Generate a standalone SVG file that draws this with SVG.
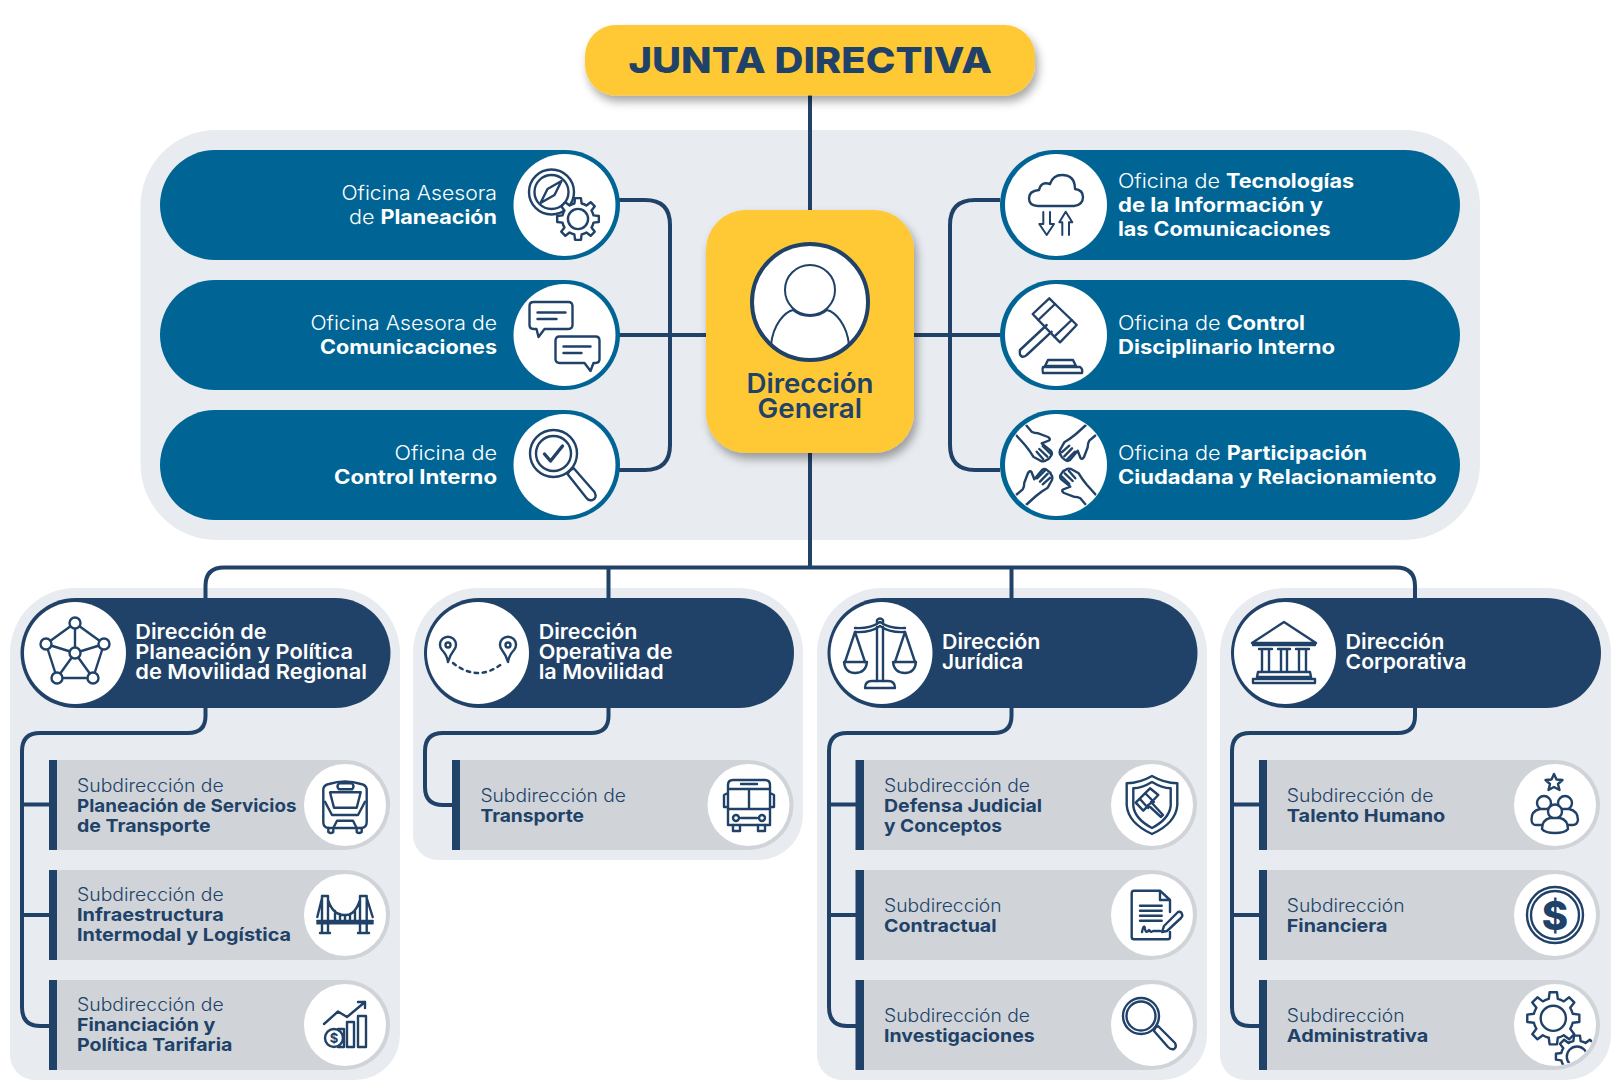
<svg xmlns="http://www.w3.org/2000/svg" width="1620" height="1090" viewBox="0 0 1620 1090">
<style>
text{font-family:"Inter","Liberation Sans",sans-serif}
.panel{fill:#e8ebef}
.yel{fill:#ffc836}
.teal{fill:#006595}
.navy{fill:#214268}
.sub{fill:#d0d4d8}
.wh{fill:#fff}
.con{fill:none;stroke:#214268;stroke-width:4}
.i{fill:none;stroke:#214268;stroke-width:2.4;stroke-linecap:round;stroke-linejoin:round}
.iw{fill:#fff;stroke:#214268;stroke-width:2.4;stroke-linejoin:round;stroke-linecap:round}
.g{fill:#fff;stroke:#214268;stroke-width:2.4;stroke-linejoin:round;vector-effect:non-scaling-stroke}
.l{fill:#fff;font-size:19.500px;font-weight:300}
.l tspan{font-weight:700}
.d{fill:#fff;font-size:20.500px;font-weight:600}
.s{fill:#214268;font-size:18px;font-weight:300}
.sb{fill:#214268;font-size:18px;font-weight:700}
</style>
<defs>
<filter id="shadow" x="-20%" y="-20%" width="140%" height="150%"><feDropShadow dx="3" dy="6" stdDeviation="5" flood-color="#000" flood-opacity=".35"/></filter>
<g id="gear">
<path class="g" d="M18.500 -4.300L24.800 -3.500V3.500L18.500 4.300A19 19 0 0 1 16.100 10L20 15.100L15.100 20L10 16.100A19 19 0 0 1 4.300 18.500L3.500 24.800H-3.500L-4.300 18.500A19 19 0 0 1 -10 16.100L-15.100 20L-20 15.100L-16.100 10A19 19 0 0 1 -18.500 4.300L-24.800 3.500V-3.500L-18.500 -4.300A19 19 0 0 1 -16.100 -10L-20 -15.100L-15.100 -20L-10 -16.100A19 19 0 0 1 -4.300 -18.500L-3.500 -24.800H3.500L4.300 -18.500A19 19 0 0 1 10 -16.100L15.100 -20L20 -15.100L16.100 -10A19 19 0 0 1 18.500 -4.300Z"/>
<circle class="g" r="12"/>
</g>
<g id="hand">
<path class="i" stroke-width="1.900" d="M-30 -40L-24.300 -33.300Q-22 -31.700 -17.700 -31.700L-8 -28Q-5 -26 -7 -24.500L-14.300 -21.700L-5 -14Q-3 -11 -5.500 -8.500Q-7 -5.500 -9.500 -5Q-11 -3 -15 -4L-22.700 -8.300Q-26 -14 -31 -20L-40 -30"/>
<path class="i" stroke-width="1.900" d="M-19.300 -13.300L-12.700 -5.700M-16.700 -16L-8.700 -8.300M-13.300 -19L-5.300 -11"/>
</g>
<clipPath id="c51"><circle r="50"/></clipPath>
<clipPath id="c41"><circle r="40.500"/></clipPath>
<clipPath id="c60"><circle r="57"/></clipPath>
</defs>

<rect class="panel" x="140.500" y="130" width="1339.500" height="410" rx="76"/>
<path class="panel" d="M75 588H335A65 65 0 0 1 400 653V1035A45 45 0 0 1 355 1080H35A25 25 0 0 1 10 1055V653A65 65 0 0 1 75 588Z"/>
<path class="panel" d="M478 588H738A65 65 0 0 1 803 653V815A45 45 0 0 1 758 860H438A25 25 0 0 1 413 835V653A65 65 0 0 1 478 588Z"/>
<path class="panel" d="M882 588H1142A65 65 0 0 1 1207 653V1035A45 45 0 0 1 1162 1080H842A25 25 0 0 1 817 1055V653A65 65 0 0 1 882 588Z"/>
<path class="panel" d="M1285 588H1546A65 65 0 0 1 1611 653V1035A45 45 0 0 1 1566 1080H1245A25 25 0 0 1 1220 1055V653A65 65 0 0 1 1285 588Z"/>

<g id="connectors">
<path class="con" d="M810 95V567"/>
<path class="con" d="M619 200H645Q670 200 670 225V445Q670 470 645 470H619M619 335H706"/>
<path class="con" d="M1000 200H975Q950 200 950 225V445Q950 470 975 470H1000M914 335H1000"/>
<path class="con" d="M205.500 598V586Q205.500 567.500 224 567.500H1396Q1415 567.500 1415 586V598M608.500 567.500V598M1011.500 567.500V598"/>
<path class="con" d="M205.500 708V716Q205.500 733 188 733H40Q22 733 22 751V1007Q22 1026 40 1026H50M22 804.500H50M22 915H50"/>
<path class="con" d="M608.500 708V716Q608.500 733 591 733H443Q425 733 425 751V787Q425 805 443 805H453"/>
<path class="con" d="M1011.500 708V716Q1011.500 733 994 733H847Q829 733 829 751V1007Q829 1026 847 1026H857M829 804.500H857M829 915H857"/>
<path class="con" d="M1415 708V716Q1415 733 1398 733H1250Q1232 733 1232 751V1007Q1232 1026 1250 1026H1260M1232 804.500H1260M1232 915H1260"/>
</g>

<g id="junta">
<rect class="yel" x="585" y="25" width="450" height="70.500" rx="31" filter="url(#shadow)"/>
<text x="628.500" y="73" textLength="363.500" lengthAdjust="spacingAndGlyphs" style="fill:#214268;font-size:36px;font-weight:800">JUNTA DIRECTIVA</text>
</g>

<g id="direccion-general">
<rect class="yel" x="706" y="210" width="208" height="243" rx="40" filter="url(#shadow)"/>
<circle cx="810" cy="302" r="58" fill="#fff" stroke="#214268" stroke-width="4"/>
<g transform="translate(810 302)"><g clip-path="url(#c60)">
<circle cy="-12" r="25" class="i" style="stroke-width:2"/>
<path class="i" style="stroke-width:2" d="M-39 43C-37 22 -25 10 -17 8C-8 16 8 16 17 8C25 10 37 22 39 43"/>
</g></g>
<text x="746.500" y="392.800" textLength="127" lengthAdjust="spacingAndGlyphs" style="fill:#214268;font-size:27px;font-weight:600">Dirección</text>
<text x="757.500" y="418" textLength="104.500" lengthAdjust="spacingAndGlyphs" style="fill:#214268;font-size:27px;font-weight:600">General</text>
</g>

<g id="of-planeacion">
<rect class="teal" x="160" y="150" width="460" height="110" rx="55"/>
<circle class="wh" cx="564.500" cy="205" r="51"/>
<text class="l" x="341.500" y="200" textLength="155.500" lengthAdjust="spacingAndGlyphs">Oficina Asesora</text>
<text class="l" x="349" y="223.500" textLength="148" lengthAdjust="spacingAndGlyphs">de <tspan>Planeación</tspan></text>
<g transform="translate(564.500 205)">
<circle cx="-13" cy="-13" r="22.500" class="i"/>
<circle cx="-13" cy="-13" r="17" class="i"/>
<path class="i" d="M-3 -24L-10 -10L-24 -2L-17 -16Z"/>
<use href="#gear" transform="translate(13.500 14) scale(.84)"/>
</g>
</g>

<g id="of-comunicaciones">
<rect class="teal" x="160" y="280" width="460" height="110" rx="55"/>
<circle class="wh" cx="564.500" cy="335" r="51"/>
<text class="l" x="310.500" y="330" textLength="186.500" lengthAdjust="spacingAndGlyphs">Oficina Asesora de</text>
<text class="l" x="320" y="353.500" textLength="177" lengthAdjust="spacingAndGlyphs"><tspan>Comunicaciones</tspan></text>
<g transform="translate(564.500 335)">
<path class="i" d="M-31 -33H4Q8 -33 8 -29V-10Q8 -6 4 -6H-20L-26 2L-28 -6H-31Q-35 -6 -35 -10V-29Q-35 -33 -31 -33Z"/>
<path class="i" d="M-27 -22.500H1M-27 -16H-8"/>
<path class="i" d="M-5 1.500H31Q35 1.500 35 5.500V24Q35 28 31 28H29L26 36L20 28H-5Q-9 28 -9 24V5.500Q-9 1.500 -5 1.500Z"/>
<path class="i" d="M-1 11.500H26M-1 18H17"/>
</g>
</g>

<g id="of-control">
<rect class="teal" x="160" y="410" width="460" height="110" rx="55"/>
<circle class="wh" cx="564.500" cy="465" r="51"/>
<text class="l" x="394.500" y="460" textLength="102.500" lengthAdjust="spacingAndGlyphs">Oficina de</text>
<text class="l" x="334" y="484" textLength="163" lengthAdjust="spacingAndGlyphs"><tspan>Control Interno</tspan></text>
<g transform="translate(564.500 465)">
<circle cx="-11" cy="-11.500" r="23.500" class="i"/>
<circle cx="-11" cy="-11.500" r="17.500" class="i"/>
<path class="i" style="stroke-width:3.400" d="M-20 -11L-14 -4L-2 -19"/>
<path class="i" d="M5 6L9 3L30 27Q33 33 28 35Q24 36 22 33L3 9Z"/>
</g>
</g>

<g id="of-tecnologias">
<rect class="teal" x="1000" y="150" width="460" height="110" rx="55"/>
<circle class="wh" cx="1056" cy="205" r="51"/>
<text class="l" x="1118" y="188.400" textLength="236" lengthAdjust="spacingAndGlyphs">Oficina de <tspan>Tecnologías</tspan></text>
<text class="l" x="1118" y="212" textLength="205" lengthAdjust="spacingAndGlyphs"><tspan>de la Información y</tspan></text>
<text class="l" x="1118" y="236.400" textLength="212.500" lengthAdjust="spacingAndGlyphs"><tspan>las Comunicaciones</tspan></text>
<g transform="translate(1056 205)">
<path class="i" d="M-18 1H18Q27 0 27 -8Q27 -15 19 -16Q19 -30 6 -30Q-3 -30 -6 -21Q-15 -24 -17 -15Q-27 -14 -27 -7Q-27 1 -18 1Z"/>
<path class="i" style="stroke-width:2" d="M-12.700 7V19M-6 7V19M-12.700 19H-16.700L-9.300 30L-2 19H-6"/>
<path class="i" style="stroke-width:2" d="M6.300 30V17.300M13 30V17.300M6.300 17.300H3.300L9.700 6.700L16.300 17.300H13"/>
</g>
</g>

<g id="of-disciplinario">
<rect class="teal" x="1000" y="280" width="460" height="110" rx="55"/>
<circle class="wh" cx="1056" cy="335" r="51"/>
<text class="l" x="1118" y="330" textLength="187" lengthAdjust="spacingAndGlyphs">Oficina de <tspan>Control</tspan></text>
<text class="l" x="1118" y="353.500" textLength="217" lengthAdjust="spacingAndGlyphs"><tspan>Disciplinario Interno</tspan></text>
<g transform="translate(1056 335)">
<path class="i" d="M-23.300 -21L-6.700 -36.700L-1 -31L-17.700 -15Z"/>
<path class="i" d="M20.700 -10L4 7.300L-1.700 1.700L15.700 -15Z"/>
<path class="i" d="M-17.700 -15L-1.700 1.700M-1 -31L15.700 -15"/>
<path class="i" d="M-9.300 -10L-36 15Q-37 20 -34 21.700Q-31 22 -29.300 20L-4.300 -3.300"/>
<path class="i" d="M-8 25H17L20 31H-11ZM-13 32H24Q27 34 26 38H-13Q-14 34 -13 32Z"/>
</g>
</g>

<g id="of-participacion">
<rect class="teal" x="1000" y="410" width="460" height="110" rx="55"/>
<circle class="wh" cx="1056" cy="465" r="51"/>
<text class="l" x="1118" y="460" textLength="249" lengthAdjust="spacingAndGlyphs">Oficina de <tspan>Participación</tspan></text>
<text class="l" x="1118" y="484" textLength="318.500" lengthAdjust="spacingAndGlyphs"><tspan>Ciudadana y Relacionamiento</tspan></text>
<g transform="translate(1056 465)"><g clip-path="url(#c51)">
<use href="#hand"/>
<use href="#hand" transform="rotate(90)"/>
<use href="#hand" transform="rotate(180)"/>
<use href="#hand" transform="rotate(270)"/>
</g></g>
</g>

<g id="dir-planeacion">
<rect class="navy" x="20.500" y="598" width="370" height="110" rx="55"/>
<circle class="wh" cx="75" cy="653" r="51"/>
<text class="d" x="135.300" y="639" textLength="131.200" lengthAdjust="spacingAndGlyphs">Dirección de</text>
<text class="d" x="135.300" y="659" textLength="217.700" lengthAdjust="spacingAndGlyphs">Planeación y Política</text>
<text class="d" x="135.300" y="679" textLength="231.700" lengthAdjust="spacingAndGlyphs">de Movilidad Regional</text>
<g transform="translate(75 653)">
<path class="i" d="M0 -30L-29 -9L-18 25H18L29 -9ZM0 -30V0M-29 -9L0 0L29 -9M-18 25L0 0L18 25"/>
<circle class="iw" cy="-30" r="5.500"/><circle class="iw" cx="-29" cy="-9" r="5.500"/><circle class="iw" cx="29" cy="-9" r="5.500"/><circle class="iw" r="5.500"/><circle class="iw" cx="-18" cy="25" r="5.500"/><circle class="iw" cx="18" cy="25" r="5.500"/>
</g>
</g>

<g id="dir-operativa">
<rect class="navy" x="424" y="598" width="370" height="110" rx="55"/>
<circle class="wh" cx="478" cy="653" r="51"/>
<text class="d" x="538.700" y="639" textLength="98.700" lengthAdjust="spacingAndGlyphs">Dirección</text>
<text class="d" x="538.700" y="659" textLength="133.800" lengthAdjust="spacingAndGlyphs">Operativa de</text>
<text class="d" x="538.700" y="679" textLength="125" lengthAdjust="spacingAndGlyphs">la Movilidad</text>
<g transform="translate(478 653)">
<path class="i" d="M-30 9Q-31 2 -36 -3A8 8 0 1 1 -24 -3Q-28 2 -30 9ZM30 9Q28 2 24 -3A8 8 0 1 1 36 -3Q31 2 30 9Z"/>
<circle class="i" cx="-30" cy="-8" r="2.500"/><circle class="i" cx="30" cy="-8" r="2.500"/>
<path class="i" stroke-dasharray="3.500 4.500" d="M-25 10Q0 30 25 10"/>
</g>
</g>

<g id="dir-juridica">
<rect class="navy" x="827.500" y="598" width="370" height="110" rx="55"/>
<circle class="wh" cx="881.500" cy="653" r="51"/>
<text class="d" x="942" y="649" textLength="98.400" lengthAdjust="spacingAndGlyphs">Dirección</text>
<text class="d" x="942" y="669" textLength="81.300" lengthAdjust="spacingAndGlyphs">Jurídica</text>
<g transform="translate(880 653)">
<path class="i" d="M-3 -29V-33Q0 -36 3 -33V-29M-3 -26V28M3 -26V28M-25 -21Q-10 -20 0 -27Q10 -20 25 -21M-25 -25Q-10 -24 0 -31Q10 -24 25 -25"/>
<path class="i" d="M-25 -21L-35 9M-25 -21L-15 9M25 -21L35 9M25 -21L15 9"/>
<path class="i" d="M-36 9H-13Q-14 20 -25 20Q-35 20 -36 9ZM13 9H36Q35 20 25 20Q14 20 13 9Z"/>
<path class="i" d="M-15 35Q-15 28 -8 28H8Q15 28 15 35Z"/>
</g>
</g>

<g id="dir-corporativa">
<rect class="navy" x="1231" y="598" width="370" height="110" rx="55"/>
<circle class="wh" cx="1285" cy="653" r="51"/>
<text class="d" x="1345.600" y="649" textLength="98.700" lengthAdjust="spacingAndGlyphs">Dirección</text>
<text class="d" x="1345.600" y="669" textLength="120.900" lengthAdjust="spacingAndGlyphs">Corporativa</text>
<g transform="translate(1284 653)">
<path class="i" d="M-32 -10L0 -31L32 -10ZM-31 -8H31"/>
<path class="i" d="M-25 -4H-12M-22 -4V19M-15 -4V19M-6 -4H6M-3 -4V19M3 -4V19M12 -4H25M15 -4V19M22 -4V19M-26 19H26L27 24H-27ZM-31 26H31V30H-31Z"/>
</g>
</g>

<g id="sub-planeacion">
<path class="sub" d="M57 760H345A45 45 0 0 1 345 850H57Z"/><rect class="navy" x="49" y="760" width="8" height="90"/>
<circle class="wh" cx="345" cy="805" r="41"/>
<text class="s" x="77" y="791.800" textLength="146.700" lengthAdjust="spacingAndGlyphs">Subdirección de</text>
<text class="sb" x="77" y="812" textLength="219.500" lengthAdjust="spacingAndGlyphs">Planeación de Servicios</text>
<text class="sb" x="77" y="832" textLength="133.700" lengthAdjust="spacingAndGlyphs">de Transporte</text>
<g transform="translate(345 805)">
<path class="i" d="M-21.700 -16Q-21 -20 -16 -21Q0 -26 16 -21Q21 -20 21.700 -16V17Q21.700 23 16 23H-16Q-21.700 23 -21.700 17Z"/>
<path class="i" d="M-6 -21.700H7Q10 -18.700 7 -15.700H-6Q-9 -18.700 -6 -21.700ZM-15 -12.700H15.700L11.700 2.700H-11ZM-20 -3.300L-13 10H13L20 -3.300"/>
<path class="i" d="M-11.700 23L-8 15.700H8L11.700 23M-16.700 23V27Q-14 29 -11.700 27V23M16.700 23V27Q14 29 11.700 27V23"/>
</g>
</g>

<g id="sub-infra">
<path class="sub" d="M57 870H345A45 45 0 0 1 345 960H57Z"/><rect class="navy" x="49" y="870" width="8" height="90"/>
<circle class="wh" cx="345" cy="915" r="41"/>
<text class="s" x="77" y="900.600" textLength="146.700" lengthAdjust="spacingAndGlyphs">Subdirección de</text>
<text class="sb" x="77" y="920.700" textLength="146.700" lengthAdjust="spacingAndGlyphs">Infraestructura</text>
<text class="sb" x="77" y="941" textLength="214" lengthAdjust="spacingAndGlyphs">Intermodal y Logística</text>
<g transform="translate(345 915)">
<path class="i" d="M-23 -19H-17V18H-23ZM15 -19H21.700V18H15ZM-25 18H-15M13 18H24M-27.700 6H27.700M-27.700 8.300H27.700M-17 -15Q-12 0 -1 0H1Q10 0 15 -15M-23 -17L-27.700 2M21.700 -17L27.700 2M-10 -4V5M-5 -1V5M0 0V5M5 -1V5M10 -4V5"/>
</g>
</g>

<g id="sub-financiacion">
<path class="sub" d="M57 980H345A45 45 0 0 1 345 1070H57Z"/><rect class="navy" x="49" y="980" width="8" height="90"/>
<circle class="wh" cx="345" cy="1025" r="41"/>
<text class="s" x="77" y="1010.800" textLength="146.700" lengthAdjust="spacingAndGlyphs">Subdirección de</text>
<text class="sb" x="77" y="1031" textLength="138.400" lengthAdjust="spacingAndGlyphs">Financiación y</text>
<text class="sb" x="77" y="1051" textLength="155.400" lengthAdjust="spacingAndGlyphs">Política Tarifaria</text>
<g transform="translate(345 1025)">
<path class="i" d="M-21 -1L-7 -13.500L2 -8L20 -23M13 -23H20V-17"/>
<path class="i" d="M2 -3H9V22H2ZM13 -9H21V22H13ZM-7 4H-1V22H-7"/>
<circle class="iw" cx="-11" cy="13" r="9"/>
<text x="-11" y="18" text-anchor="middle" style="fill:#214268;font-size:13px;font-weight:700">$</text>
</g>
</g>

<g id="sub-transporte">
<path class="sub" d="M460 760H748.500A45 45 0 0 1 748.500 850H460Z"/><rect class="navy" x="452" y="760" width="8" height="90"/>
<circle class="wh" cx="748.500" cy="805" r="41"/>
<text class="s" x="480.400" y="801.500" textLength="145.600" lengthAdjust="spacingAndGlyphs">Subdirección de</text>
<text class="sb" x="480.400" y="821.700" textLength="103.600" lengthAdjust="spacingAndGlyphs">Transporte</text>
<g transform="translate(749 805)">
<path class="i" d="M-16 -25H16Q21 -25 21 -20V20H-21V-20Q-21 -25 -16 -25ZM-21 -16H21M-21 4H21M0 -16V4M-8 -21H8M-21 -12L-25 -10V2H-22M21 -12L25 -10V2H22"/>
<path class="i" d="M-16 20V26H-9V20M16 20V26H9V20M-8 13H8"/>
<circle class="i" cx="-13" cy="13" r="3"/><circle class="i" cx="13" cy="13" r="3"/>
</g>
</g>

<g id="sub-defensa">
<path class="sub" d="M864 760H1152A45 45 0 0 1 1152 850H864Z"/><rect class="navy" x="855.500" y="760" width="8.500" height="90"/>
<circle class="wh" cx="1152" cy="805" r="41"/>
<text class="s" x="884" y="791.800" textLength="146" lengthAdjust="spacingAndGlyphs">Subdirección de</text>
<text class="sb" x="884" y="812" textLength="158" lengthAdjust="spacingAndGlyphs">Defensa Judicial</text>
<text class="sb" x="884" y="832" textLength="118" lengthAdjust="spacingAndGlyphs">y Conceptos</text>
<g transform="translate(1152 805)">
<path class="i" d="M0 -29Q12 -22 25.300 -21.700V0Q24 18 0 29Q-24 18 -25.300 0V-21.700Q-12 -22 0 -29Z"/>
<path class="i" d="M0 -23Q10 -17 18.700 -16.700V1Q17 14 0 23Q-17 14 -18.700 1V-16.700Q-10 -17 0 -23Z"/>
<path class="i" d="M-2 -16.700L6.300 -10L-8.700 5.700L-16.300 -2.300ZM-7 -12L2 -3M-12 -6L-4 3M-1 -3L11 10L9 12L-4 0"/>
</g>
</g>

<g id="sub-contractual">
<path class="sub" d="M864 870H1152A45 45 0 0 1 1152 960H864Z"/><rect class="navy" x="855.500" y="870" width="8.500" height="90"/>
<circle class="wh" cx="1152" cy="915" r="41"/>
<text class="s" x="884" y="911.700" textLength="117.600" lengthAdjust="spacingAndGlyphs">Subdirección</text>
<text class="sb" x="884" y="932" textLength="112.500" lengthAdjust="spacingAndGlyphs">Contractual</text>
<g transform="translate(1152 915)">
<path class="i" d="M18 -3V-15L8 -24.300H-18Q-20.300 -24.300 -20.300 -22V22Q-20.300 24.300 -18 24.300H16Q18 24.300 18 22V17M8 -24.300V-15H18"/>
<path class="i" d="M-12 -9.300H9.700M-12 -4.300H9.700M-12 .7H9.700M-12 5.700H9.700M-10 17Q-8 8 -7 14Q-6 19 -3 15Q-1 18 1 16H8"/>
<path class="i" d="M12 11L26 -3Q29 -4 30 -1Q31 1 29 3L15 16L10 17Z"/>
</g>
</g>

<g id="sub-investigaciones">
<path class="sub" d="M864 980H1152A45 45 0 0 1 1152 1070H864Z"/><rect class="navy" x="855.500" y="980" width="8.500" height="90"/>
<circle class="wh" cx="1152" cy="1025" r="41"/>
<text class="s" x="884" y="1021.500" textLength="146" lengthAdjust="spacingAndGlyphs">Subdirección de</text>
<text class="sb" x="884" y="1041.700" textLength="150.700" lengthAdjust="spacingAndGlyphs">Investigaciones</text>
<g transform="translate(1152 1025)">
<circle cx="-11" cy="-9" r="18" class="i"/><circle cx="-11" cy="-9" r="14.500" class="i"/>
<path class="i" d="M3 3L6 1L23 18Q25 22 22 24Q19 25 16 22L2 6Z"/>
</g>
</g>

<g id="sub-talento">
<path class="sub" d="M1267 760H1555A45 45 0 0 1 1555 850H1267Z"/><rect class="navy" x="1259" y="760" width="8" height="90"/>
<circle class="wh" cx="1555" cy="805" r="41"/>
<text class="s" x="1286.800" y="801.500" textLength="146.700" lengthAdjust="spacingAndGlyphs">Subdirección de</text>
<text class="sb" x="1286.800" y="821.700" textLength="158.500" lengthAdjust="spacingAndGlyphs">Talento Humano</text>
<g transform="translate(1555 805)">
<path class="i" d="M-1 -31L1.500 -25.500L7.500 -25L3 -21L4.500 -15L-1 -18L-6.500 -15L-5 -21L-9.500 -25L-3.500 -25.500Z"/>
<circle class="iw" cx="-11" cy="-2" r="7"/><circle class="iw" cx="10" cy="-2" r="7"/>
<path class="iw" d="M-23.500 15Q-24 6 -15 4H14Q23 6 23 15Q22 20 18 20H-19Q-23 20 -23.500 15Z"/>
<circle class="iw" cy="6.500" r="7"/>
<path class="iw" d="M-13 24Q-13 15 -5 13H5Q13 15 13 24Q10 28 0 28Q-10 28 -13 24Z"/>
</g>
</g>

<g id="sub-financiera">
<path class="sub" d="M1267 870H1555A45 45 0 0 1 1555 960H1267Z"/><rect class="navy" x="1259" y="870" width="8" height="90"/>
<circle class="wh" cx="1555" cy="915" r="41"/>
<text class="s" x="1286.800" y="911.700" textLength="117.700" lengthAdjust="spacingAndGlyphs">Subdirección</text>
<text class="sb" x="1286.800" y="932" textLength="100.700" lengthAdjust="spacingAndGlyphs">Financiera</text>
<g transform="translate(1555 915)">
<circle r="28" class="i"/><circle r="24" class="i"/>
<text y="14.500" text-anchor="middle" style="fill:#214268;font-size:40px;font-weight:800">$</text>
</g>
</g>

<g id="sub-administrativa">
<path class="sub" d="M1267 980H1555A45 45 0 0 1 1555 1070H1267Z"/><rect class="navy" x="1259" y="980" width="8" height="90"/>
<circle class="wh" cx="1555" cy="1025" r="41"/>
<text class="s" x="1286.800" y="1021.500" textLength="117.700" lengthAdjust="spacingAndGlyphs">Subdirección</text>
<text class="sb" x="1286.800" y="1041.700" textLength="141.500" lengthAdjust="spacingAndGlyphs">Administrativa</text>
<g transform="translate(1555 1025)"><g clip-path="url(#c41)">
<use href="#gear" transform="translate(-1.700 -6.700) scale(1.050)"/>
<use href="#gear" transform="translate(22 31.700) scale(.85)"/>
</g></g>
</g>
</svg>
